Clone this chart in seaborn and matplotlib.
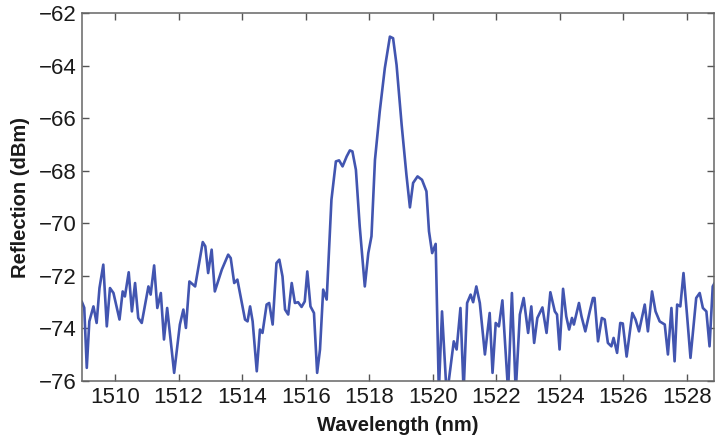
import matplotlib
matplotlib.use("Agg")
import matplotlib.pyplot as plt
from matplotlib import font_manager
import seaborn as sns
import pandas as pd

wavelength_nm = [
    1508.95, 1509.03, 1509.11, 1509.19, 1509.32, 1509.42, 1509.51, 1509.63, 1509.74, 1509.84,
    1509.95, 1510.14, 1510.24, 1510.31, 1510.43, 1510.53, 1510.63, 1510.73, 1510.84, 1511.05,
    1511.12, 1511.23, 1511.33, 1511.44, 1511.54, 1511.64, 1511.86, 1512.04, 1512.15, 1512.23,
    1512.34, 1512.52, 1512.76, 1512.84, 1512.93, 1513.04, 1513.14, 1513.36, 1513.56, 1513.64,
    1513.75, 1513.85, 1514.09, 1514.17, 1514.25, 1514.33, 1514.46, 1514.56, 1514.64, 1514.77,
    1514.85, 1514.96, 1515.08, 1515.17, 1515.27, 1515.35, 1515.45, 1515.56, 1515.66, 1515.76,
    1515.87, 1515.97, 1516.05, 1516.15, 1516.26, 1516.36, 1516.45, 1516.55, 1516.66, 1516.81,
    1516.95, 1517.05, 1517.16, 1517.29, 1517.39, 1517.47, 1517.58, 1517.70, 1517.86, 1517.97,
    1518.07, 1518.18, 1518.33, 1518.49, 1518.65, 1518.75, 1518.86, 1519.02, 1519.17, 1519.28,
    1519.38, 1519.52, 1519.66, 1519.80, 1519.88, 1519.98, 1520.09, 1520.19, 1520.29, 1520.44,
    1520.66, 1520.75, 1520.87, 1520.97, 1521.08, 1521.19, 1521.27, 1521.37, 1521.48, 1521.64,
    1521.79, 1521.88, 1521.98, 1522.08, 1522.19, 1522.37, 1522.49, 1522.61, 1522.74, 1522.86,
    1523.00, 1523.10, 1523.19, 1523.29, 1523.45, 1523.58, 1523.70, 1523.84, 1523.91, 1523.99,
    1524.10, 1524.20, 1524.29, 1524.38, 1524.44, 1524.60, 1524.68, 1524.80, 1524.94, 1525.04,
    1525.09, 1525.20, 1525.32, 1525.41, 1525.51, 1525.62, 1525.69, 1525.80, 1525.90, 1525.98,
    1526.10, 1526.28, 1526.38, 1526.49, 1526.67, 1526.77, 1526.90, 1527.01, 1527.14, 1527.30,
    1527.40, 1527.51, 1527.61, 1527.69, 1527.79, 1527.89, 1528.00, 1528.11, 1528.29, 1528.40,
    1528.50, 1528.61, 1528.71, 1528.81, 1528.90,
]

reflection_dbm = [
    -72.97, -73.21, -75.50, -73.73, -73.16, -73.79, -72.46, -71.57, -73.92, -72.46,
    -72.65, -73.66, -72.59, -72.78, -71.86, -73.35, -72.27, -73.60, -73.79, -72.40,
    -72.71, -71.60, -73.22, -72.65, -74.42, -73.22, -75.69, -73.85, -73.28, -73.98,
    -72.21, -72.40, -70.71, -70.87, -71.89, -71.00, -72.59, -71.76, -71.19, -71.32,
    -72.27, -72.14, -73.66, -73.73, -73.16, -73.73, -75.63, -74.04, -74.17, -73.09,
    -73.03, -73.85, -71.51, -71.38, -72.02, -73.28, -73.47, -72.27, -73.03, -73.00,
    -73.18, -72.97, -71.83, -73.16, -73.41, -75.69, -74.80, -72.52, -72.90, -69.10,
    -67.64, -67.60, -67.83, -67.45, -67.22, -67.26, -67.96, -70.11, -72.40, -71.13,
    -70.49, -67.58, -65.74, -64.09, -62.89, -62.95, -63.97, -66.25, -68.15, -69.39,
    -68.46, -68.21, -68.34, -68.78, -70.30, -71.13, -70.78, -76.40, -73.35, -76.60,
    -74.49, -74.80, -73.22, -76.40, -73.03, -72.71, -73.00, -72.40, -73.03, -74.99,
    -73.41, -75.69, -73.79, -73.92, -72.93, -76.40, -72.65, -76.40, -73.47, -72.84,
    -74.17, -73.16, -74.55, -73.60, -73.20, -74.17, -72.62, -73.35, -73.47, -74.80,
    -72.49, -73.54, -74.04, -73.60, -73.85, -73.03, -73.54, -74.11, -73.35, -72.84,
    -72.84, -74.49, -73.60, -73.66, -74.55, -74.68, -74.36, -74.93, -73.79, -73.81,
    -75.07, -73.41, -73.66, -74.11, -73.09, -74.11, -72.59, -73.35, -73.73, -73.85,
    -74.99, -73.22, -75.25, -73.09, -73.16, -71.89, -73.47, -75.12, -72.84, -72.65,
    -73.22, -73.35, -74.68, -72.40, -72.20,
]

x_ticks = [1510, 1512, 1514, 1516, 1518, 1520, 1522, 1524, 1526, 1528]
y_ticks = [-76, -74, -72, -70, -68, -66, -64, -62]
x_label = "Wavelength (nm)"
y_label = "Reflection (dBm)"

df = pd.DataFrame({"wavelength": wavelength_nm, "reflection": reflection_dbm})

sns.set_theme(style="white")
installed = {f.name for f in font_manager.fontManager.ttflist}
tick_family = ["Liberation Sans Narrow"] if "Liberation Sans Narrow" in installed else ["Liberation Sans"]
plt.rcParams["font.family"] = ["Liberation Sans", "DejaVu Sans"]

fig = plt.figure(figsize=(7.15, 4.42), dpi=100)
ax = fig.add_axes([0.1147, 0.138, 0.8839, 0.832])

sns.lineplot(data=df, x="wavelength", y="reflection", ax=ax, color="#4255b0",
             linewidth=1.9, sort=False, estimator=None,
             solid_joinstyle="round", solid_capstyle="round")

ax.set_xlim(1508.96, 1528.85)
ax.set_ylim(-76, -62)
ax.set_xticks(x_ticks)
ax.set_yticks(y_ticks)
ax.set_xticklabels([str(t) for t in x_ticks], family=tick_family, fontsize=16)
ax.set_yticklabels([f"\u2212{abs(t)}" for t in y_ticks], family=tick_family, fontsize=16)
ax.tick_params(direction="in", length=5, width=1, color="#555555",
               top=True, right=True, bottom=True, left=True, pad=4, labelcolor="#1a1a1a")
for s in ax.spines.values():
    s.set_visible(True)
    s.set_color("#666666")
    s.set_linewidth(1.1)

ax.set_xlabel(x_label, fontsize=14.5, fontweight="bold", color="#1a1a1a", labelpad=6)
ax.set_ylabel(y_label, fontsize=14.5, fontweight="bold", color="#1a1a1a", labelpad=6)

fig.savefig("out.png", dpi=100)
